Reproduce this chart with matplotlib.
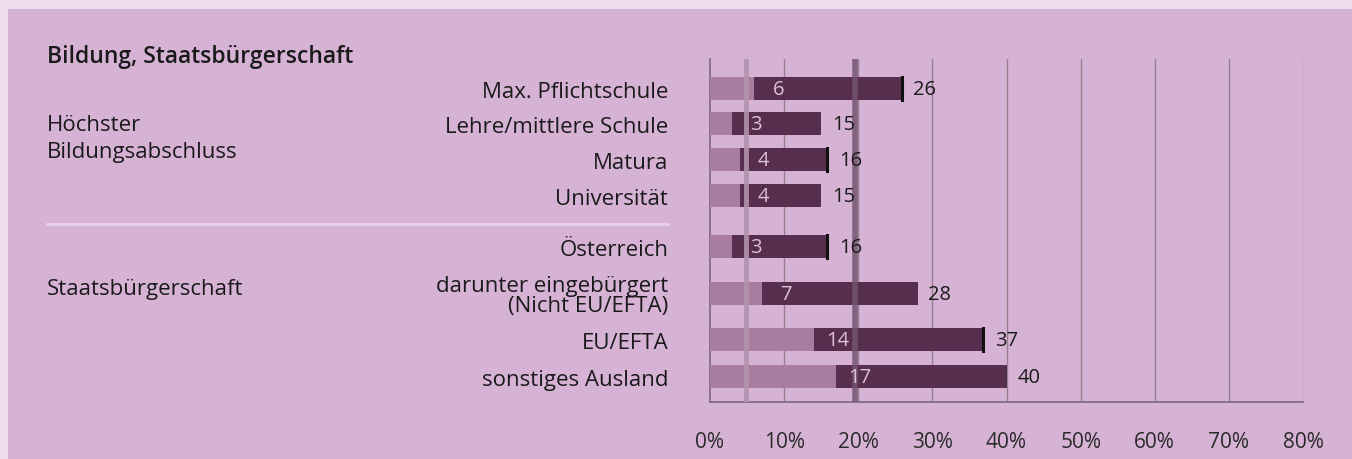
import numpy as np
import matplotlib
matplotlib.use("Agg")
import matplotlib.pyplot as plt
from matplotlib.patches import Rectangle

plt.rcParams['font.family'] = ['Open Sans', 'DejaVu Sans']

# data
categories = ["Max. Pflichtschule", "Lehre/mittlere Schule", "Matura", "Universität",
              "Österreich", "darunter eingebürgert\n(Nicht EU/EFTA)", "EU/EFTA", "sonstiges Ausland"]
light_vals = [6, 3, 4, 4, 3, 7, 14, 17]
total_vals = [26, 15, 16, 15, 16, 28, 37, 40]
end_marks = [26, None, 16, None, 16, None, 37, None]
ref_light = 4.8
ref_dark = 19.5
xticks = [0, 10, 20, 30, 40, 50, 60, 70, 80]
xticklabels = [f"{t}%" for t in xticks]
group_titles = ["Höchster\nBildungsabschluss", "Staatsbürgerschaft"]
header = "Bildung, Staatsbürgerschaft"

# layout (row slots, 1 unit = 36 px)
ypos = np.array([0, 0.97, 1.97, 2.97, 4.39, 5.69, 6.97, 8.0])

W, H = 1352, 460
bg = "#d6b3d4"
light_c = "#a97d9f"
dark_c = "#582e4f"
grid_c = "#94808f"
fs = 16
fs_num = 14.5

fig = plt.figure(figsize=(W / 100, H / 100), dpi=100)
fig.patch.set_facecolor("#ecdcec")
fig.patches.append(Rectangle((8 / W, 0), 1, 1 - 10 / H, transform=fig.transFigure,
                             facecolor=bg, edgecolor="none", zorder=-10))

def fx(px):
    return px / W

def fy(py):
    return 1 - py / H

ax = fig.add_axes([fx(710), fy(403), (1303 - 710) / W, (403 - 60) / H])
ax.set_facecolor("none")
ax.set_xlim(0, 80)
ax.set_ylim(-0.83 + 343 / 36, -0.83)

for t in xticks[1:]:
    ax.axvline(t, color=grid_c, lw=1, zorder=1)

bh = 0.64
ax.barh(ypos, total_vals, height=bh, color=dark_c, zorder=2)
ax.barh(ypos, light_vals, height=bh, color=light_c, zorder=3)

for y, m in zip(ypos, end_marks):
    if m is not None:
        ax.plot([m - 0.15, m - 0.15], [y - bh / 2, y + bh / 2], color="#111111", lw=2.2, zorder=4)

ax.axvline(ref_light, color="#b293ae", lw=3.5, alpha=0.9, zorder=5)
ax.axvline(ref_dark, color="#735570", lw=4, alpha=0.85, zorder=5)

for y, lv, tv in zip(ypos, light_vals, total_vals):
    ax.text(lv + 3.2, y, str(lv), ha="center", va="center", fontsize=fs_num, color="#dcc0d8", zorder=6)
    ax.text(tv + 1.45, y, str(tv), ha="left", va="center", fontsize=fs_num, color="#1a1a1a", zorder=6)

ax.set_xticks(xticks)
ax.set_xticklabels(xticklabels, fontsize=15, color="#2a2a2a")
ax.tick_params(axis="x", length=0, pad=21)
ax.set_yticks(ypos)
ax.set_yticklabels(categories, fontsize=fs, color="#1a1a1a", linespacing=0.9)
ax.tick_params(axis="y", length=0, pad=30)
for lab in ax.get_yticklabels():
    lab.set_multialignment("right")

for s in ["top", "right"]:
    ax.spines[s].set_visible(False)
for s in ["left", "bottom"]:
    ax.spines[s].set_color("#7d687a")
    ax.spines[s].set_linewidth(1.2)

fig.text(fx(47), fy(63), header, fontsize=16.5, fontweight="semibold", color="#1a1a1a", va="baseline")
fig.text(fx(47), fy(131), "Höchster", fontsize=fs, color="#1a1a1a", va="baseline")
fig.text(fx(47), fy(158), "Bildungsabschluss", fontsize=fs, color="#1a1a1a", va="baseline")
fig.text(fx(47), fy(290), group_titles[1], fontsize=fs, color="#1a1a1a", va="center")
fig.add_artist(plt.Line2D([fx(47), fx(668)], [fy(225), fy(225)], color="#e8d0e6", lw=2,
                          transform=fig.transFigure))

fig.savefig("out.png", dpi=100, facecolor=fig.get_facecolor())
